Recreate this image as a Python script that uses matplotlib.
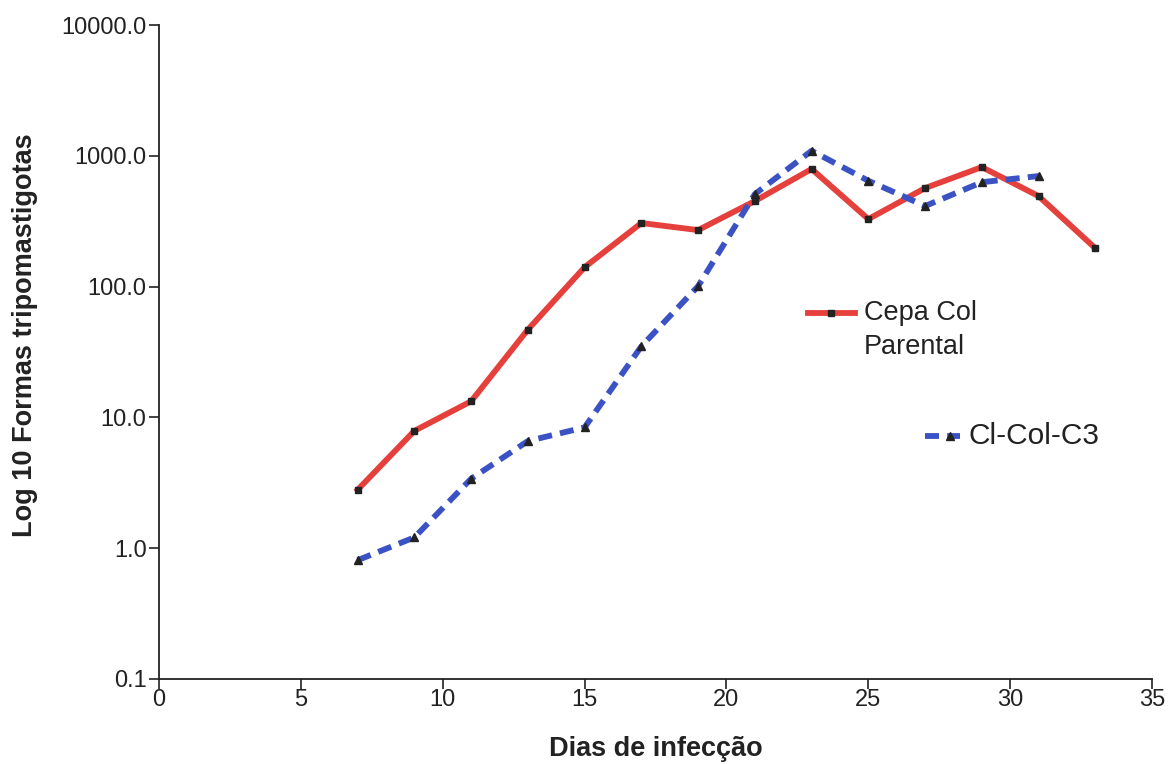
import matplotlib
matplotlib.use('Agg')
import matplotlib.pyplot as plt
from matplotlib.lines import Line2D

plt.rcParams['font.family'] = ['Liberation Sans', 'DejaVu Sans']

# dados
dias = [7, 9, 11, 13, 15, 17, 19, 21, 23, 25, 27, 29, 31, 33]
parental = [2.8, 7.9, 13.3, 47, 141, 307, 271, 452, 795, 329, 568, 822, 493, 197]
dias_c3 = [7, 9, 11, 13, 15, 17, 19, 21, 23, 25, 27, 29, 31]
clone_c3 = [0.81, 1.21, 3.4, 6.6, 8.4, 35, 101, 511, 1096, 646, 414, 630, 702]

y_ticks = [0.1, 1, 10, 100, 1000, 10000]
y_labels = ['0.1', '1.0', '10.0', '100.0', '1000.0', '10000.0']
x_ticks = [0, 5, 10, 15, 20, 25, 30, 35]

red = '#e6403c'
blue = '#3b52c4'
ink = '#222222'

fig = plt.figure(figsize=(11.72, 7.64), dpi=100)
ax = fig.add_axes([0.1357, 0.1113, 0.8473, 0.8557])

ax.plot(dias_c3, clone_c3, color=blue, lw=4.2, dashes=(2.4, 1.4),
        marker='^', markersize=5.5, markerfacecolor=ink, markeredgecolor=ink, zorder=3)
ax.plot(dias, parental, color=red, lw=4.2,
        marker='s', markersize=5, markerfacecolor=ink, markeredgecolor=ink, zorder=2)

ax.set_yscale('log')
ax.set_ylim(0.1, 10000)
ax.set_xlim(0, 35)
ax.set_yticks(y_ticks)
ax.set_yticklabels(y_labels)
ax.minorticks_off()
ax.set_xticks(x_ticks)
ax.tick_params(axis='both', labelsize=17, colors=ink, length=7, width=1.2, direction='out')
ax.tick_params(axis='x', pad=0)
ax.tick_params(axis='y', pad=2)

for s in ['top', 'right']:
    ax.spines[s].set_visible(False)
for s in ['left', 'bottom']:
    ax.spines[s].set_linewidth(1.3)
    ax.spines[s].set_color(ink)

ax.set_xlabel('Dias de infecção', fontsize=19.5, fontweight='bold', color=ink, labelpad=18)
ax.set_ylabel('Log 10 Formas tripomastigotas', fontsize=19.5, fontweight='bold', color=ink)
ax.yaxis.set_label_coords(-0.122, 0.526)

# legenda manual
fig.add_artist(Line2D([808 / 1172, 855 / 1172], [1 - 313 / 764] * 2, color=red, lw=4.2,
                      transform=fig.transFigure))
fig.add_artist(Line2D([831 / 1172], [1 - 313 / 764], marker='s', markersize=5, color=ink,
                      transform=fig.transFigure))
fig.text(864 / 1172, 1 - 300 / 764, 'Cepa Col\nParental', fontsize=19.5, color=ink,
         va='top', ha='left', linespacing=1.4, transform=fig.transFigure)

fig.add_artist(Line2D([925 / 1172, 960 / 1172], [1 - 436 / 764] * 2, color=blue, lw=4.2,
                      dashes=(2.4, 1.4), transform=fig.transFigure))
fig.add_artist(Line2D([950 / 1172], [1 - 436 / 764], marker='^', markersize=5.5, color=ink,
                      transform=fig.transFigure))
fig.text(968 / 1172, 1 - 436 / 764, 'Cl-Col-C3', fontsize=21.5, color=ink,
         va='center', ha='left', transform=fig.transFigure)

fig.savefig('out.png', dpi=100)
